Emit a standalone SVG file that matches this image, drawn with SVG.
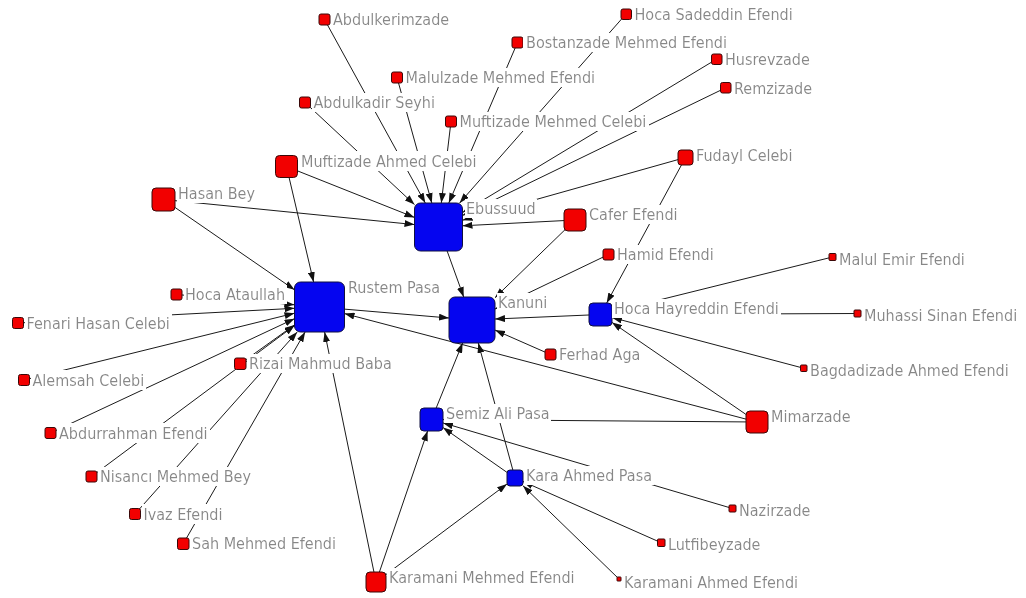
<svg xmlns="http://www.w3.org/2000/svg" width="1026" height="598" viewBox="0 0 1026 598">
  <style>
    .e { stroke: #1a1a1a; stroke-width: 1; fill: none; }
    .blue { fill: #0505f0; stroke: #101040; stroke-width: 1; }
    .red { fill: #f20000; stroke: #3a0808; stroke-width: 1; }
    .lbl { font-family: "DejaVu Sans Condensed", "DejaVu Sans", sans-serif; font-stretch: condensed; font-size: 16px; fill: #878787; filter: url(#bg); }
  </style>
  <defs>
    <!-- white box behind each label, sized to the text's own bounding box -->
    <filter id="bg" x="-0.01" y="0" width="1.02" height="1">
      <feFlood flood-color="#ffffff"/>
      <feComposite in="SourceGraphic"/>
    </filter>
    <marker id="arr" viewBox="0 0 10 7" refX="10" refY="3.5" markerWidth="10" markerHeight="7" markerUnits="userSpaceOnUse" orient="auto">
      <path d="M0,0 L10,3.5 L0,7 z" fill="#111"/>
    </marker>
  </defs>
  <rect width="1026" height="598" fill="#ffffff"/>

  <g id="connectors">
    <!-- into Ebussuud -->
    <line class="e" x1="324.5" y1="19.5" x2="425.3" y2="203" marker-end="url(#arr)"/>
    <line class="e" x1="305" y1="102.5" x2="414.5" y2="204.6" marker-end="url(#arr)"/>
    <line class="e" x1="397" y1="77.5" x2="431.8" y2="203" marker-end="url(#arr)"/>
    <line class="e" x1="451" y1="121.5" x2="441.3" y2="203" marker-end="url(#arr)"/>
    <line class="e" x1="517.5" y1="42.5" x2="448.8" y2="203" marker-end="url(#arr)"/>
    <line class="e" x1="626" y1="14" x2="459.6" y2="203" marker-end="url(#arr)"/>
    <line class="e" x1="716.75" y1="59" x2="462.5" y2="212.5" marker-end="url(#arr)"/>
    <line class="e" x1="725.75" y1="87.75" x2="462.5" y2="215.4" marker-end="url(#arr)"/>
    <line class="e" x1="685.5" y1="157.5" x2="462.5" y2="220.2" marker-end="url(#arr)"/>
    <line class="e" x1="575" y1="220" x2="462.5" y2="225.8" marker-end="url(#arr)"/>
    <line class="e" x1="286.5" y1="166.5" x2="414.5" y2="217.4" marker-end="url(#arr)"/>
    <line class="e" x1="163.5" y1="199.5" x2="414.5" y2="224.6" marker-end="url(#arr)"/>
    <!-- into Rustem Pasa -->
    <line class="e" x1="286.5" y1="166.5" x2="313.6" y2="282" marker-end="url(#arr)"/>
    <line class="e" x1="163.5" y1="199.5" x2="294.5" y2="289.8" marker-end="url(#arr)"/>
    <line class="e" x1="176.5" y1="294.5" x2="294.5" y2="304.8" marker-end="url(#arr)"/>
    <line class="e" x1="18" y1="323" x2="294.5" y2="308.3" marker-end="url(#arr)"/>
    <line class="e" x1="24" y1="380" x2="294.5" y2="313.2" marker-end="url(#arr)"/>
    <line class="e" x1="240.25" y1="363.75" x2="294.5" y2="324.9" marker-end="url(#arr)"/>
    <line class="e" x1="50.5" y1="433" x2="294.5" y2="318.7" marker-end="url(#arr)"/>
    <line class="e" x1="91.5" y1="476.5" x2="294.5" y2="325.6" marker-end="url(#arr)"/>
    <line class="e" x1="135" y1="514" x2="297.2" y2="332" marker-end="url(#arr)"/>
    <line class="e" x1="183.25" y1="543.75" x2="305.1" y2="332" marker-end="url(#arr)"/>
    <line class="e" x1="376" y1="582" x2="324.6" y2="332" marker-end="url(#arr)"/>
    <line class="e" x1="757" y1="422" x2="344.5" y2="313.6" marker-end="url(#arr)"/>
    <!-- into Kanuni -->
    <line class="e" x1="438.5" y1="227" x2="463.7" y2="297" marker-end="url(#arr)"/>
    <line class="e" x1="575" y1="220" x2="495" y2="297.7" marker-end="url(#arr)"/>
    <line class="e" x1="608.5" y1="254.5" x2="495" y2="309" marker-end="url(#arr)"/>
    <line class="e" x1="600.5" y1="314.5" x2="495" y2="319" marker-end="url(#arr)"/>
    <line class="e" x1="550.5" y1="354.5" x2="495" y2="330.1" marker-end="url(#arr)"/>
    <line class="e" x1="319.5" y1="307" x2="449" y2="318" marker-end="url(#arr)"/>
    <line class="e" x1="431.5" y1="419.5" x2="462.6" y2="343" marker-end="url(#arr)"/>
    <line class="e" x1="515" y1="478" x2="478.3" y2="343" marker-end="url(#arr)"/>
    <!-- into Hoca Hayreddin Efendi -->
    <line class="e" x1="685.5" y1="157.5" x2="606.7" y2="303" marker-end="url(#arr)"/>
    <line class="e" x1="757" y1="422" x2="612" y2="322.4" marker-end="url(#arr)"/>
    <line class="e" x1="832.5" y1="257" x2="612" y2="311.7" marker-end="url(#arr)"/>
    <line class="e" x1="857.5" y1="313.5" x2="612" y2="314.5" marker-end="url(#arr)"/>
    <line class="e" x1="803.75" y1="368.25" x2="612" y2="317.5" marker-end="url(#arr)"/>
    <!-- into Semiz Ali Pasa -->
    <line class="e" x1="757" y1="422" x2="443" y2="419.6" marker-end="url(#arr)"/>
    <line class="e" x1="732.5" y1="508.5" x2="443" y2="422.9" marker-end="url(#arr)"/>
    <line class="e" x1="515" y1="478" x2="443" y2="427.6" marker-end="url(#arr)"/>
    <line class="e" x1="376" y1="582" x2="427.6" y2="431" marker-end="url(#arr)"/>
    <!-- into Kara Ahmed Pasa -->
    <line class="e" x1="661.25" y1="542.75" x2="523" y2="481.5" marker-end="url(#arr)"/>
    <line class="e" x1="619" y1="579" x2="523" y2="485.8" marker-end="url(#arr)"/>
    <line class="e" x1="376" y1="582" x2="507" y2="484" marker-end="url(#arr)"/>
  </g>

  <!-- central actors -->
  <g id="n-ebussuud"><rect class="blue" x="414.5" y="203" width="48" height="48" rx="6"/><text class="lbl" x="466" y="214">Ebussuud</text></g>
  <g id="n-kanuni"><rect class="blue" x="449" y="297" width="46" height="46" rx="6"/><text class="lbl" x="498" y="308">Kanuni</text></g>
  <g id="n-rustem-pasa"><rect class="blue" x="294.5" y="282" width="50" height="50" rx="6"/><text class="lbl" x="348" y="293">Rustem Pasa</text></g>
  <g id="n-hoca-hayreddin"><rect class="blue" x="589" y="303" width="23" height="23" rx="4"/><text class="lbl" x="614" y="314">Hoca Hayreddin Efendi</text></g>
  <g id="n-semiz-ali"><rect class="blue" x="420" y="408" width="23" height="23" rx="4"/><text class="lbl" x="446" y="419">Semiz Ali Pasa</text></g>
  <g id="n-kara-ahmed"><rect class="blue" x="507" y="470" width="16" height="16" rx="3"/><text class="lbl" x="526" y="481">Kara Ahmed Pasa</text></g>

  <!-- other actors -->
  <g id="n-abdulkerimzade"><rect class="red" x="319" y="14" width="11" height="11" rx="2"/><text class="lbl" x="333" y="25">Abdulkerimzade</text></g>
  <g id="n-abdulkadir-seyhi"><rect class="red" x="299.5" y="97" width="11" height="11" rx="2"/><text class="lbl" x="313.5" y="108">Abdulkadir Seyhi</text></g>
  <g id="n-muftizade-ahmed"><rect class="red" x="275.5" y="155.5" width="22" height="22" rx="4"/><text class="lbl" x="301" y="166.5">Muftizade Ahmed Celebi</text></g>
  <g id="n-hasan-bey"><rect class="red" x="152" y="188" width="23" height="23" rx="4"/><text class="lbl" x="178" y="199">Hasan Bey</text></g>
  <g id="n-hoca-sadeddin"><rect class="red" x="621" y="9" width="10.5" height="10.5" rx="2"/><text class="lbl" x="634.5" y="20">Hoca Sadeddin Efendi</text></g>
  <g id="n-bostanzade"><rect class="red" x="512" y="37" width="11" height="11" rx="2"/><text class="lbl" x="526" y="48">Bostanzade Mehmed Efendi</text></g>
  <g id="n-malulzade"><rect class="red" x="391.5" y="72" width="11" height="11" rx="2"/><text class="lbl" x="405.5" y="83">Malulzade Mehmed Efendi</text></g>
  <g id="n-muftizade-mehmed"><rect class="red" x="445.5" y="116" width="11" height="11" rx="2"/><text class="lbl" x="459.5" y="127">Muftizade Mehmed Celebi</text></g>
  <g id="n-husrevzade"><rect class="red" x="711.5" y="54" width="10.5" height="10.5" rx="2"/><text class="lbl" x="725" y="65">Husrevzade</text></g>
  <g id="n-remzizade"><rect class="red" x="720.5" y="82.5" width="10.5" height="10.5" rx="2"/><text class="lbl" x="734" y="93.5">Remzizade</text></g>
  <g id="n-fudayl-celebi"><rect class="red" x="678" y="150" width="15" height="15" rx="3"/><text class="lbl" x="696" y="161">Fudayl Celebi</text></g>
  <g id="n-cafer-efendi"><rect class="red" x="564" y="209" width="22" height="22" rx="4"/><text class="lbl" x="589" y="220">Cafer Efendi</text></g>
  <g id="n-hamid-efendi"><rect class="red" x="603" y="249" width="11" height="11" rx="2"/><text class="lbl" x="617" y="260">Hamid Efendi</text></g>
  <g id="n-ferhad-aga"><rect class="red" x="545" y="349" width="11" height="11" rx="2"/><text class="lbl" x="559" y="360">Ferhad Aga</text></g>
  <g id="n-malul-emir"><rect class="red" x="829" y="253.5" width="7" height="7" rx="1"/><text class="lbl" x="839" y="264.5">Malul Emir Efendi</text></g>
  <g id="n-muhassi-sinan"><rect class="red" x="854" y="310" width="7" height="7" rx="1"/><text class="lbl" x="864" y="321">Muhassi Sinan Efendi</text></g>
  <g id="n-bagdadizade"><rect class="red" x="800.5" y="365" width="6.5" height="6.5" rx="1"/><text class="lbl" x="810" y="376">Bagdadizade Ahmed Efendi</text></g>
  <g id="n-mimarzade"><rect class="red" x="746" y="411" width="22" height="22" rx="4"/><text class="lbl" x="771" y="422">Mimarzade</text></g>
  <g id="n-nazirzade"><rect class="red" x="729" y="505" width="7" height="7" rx="1"/><text class="lbl" x="739" y="516">Nazirzade</text></g>
  <g id="n-lutfibeyzade"><rect class="red" x="657.5" y="539" width="7.5" height="7.5" rx="1"/><text class="lbl" x="668" y="550">Lutfibeyzade</text></g>
  <g id="n-karamani-ahmed"><rect class="red" x="617" y="577" width="4" height="4" rx="0.5"/><text class="lbl" x="624" y="588">Karamani Ahmed Efendi</text></g>
  <g id="n-karamani-mehmed"><rect class="red" x="366" y="572" width="20" height="20" rx="4"/><text class="lbl" x="389" y="583">Karamani Mehmed Efendi</text></g>
  <g id="n-hoca-ataullah"><rect class="red" x="171" y="289" width="11" height="11" rx="2"/><text class="lbl" x="185" y="300">Hoca Ataullah</text></g>
  <g id="n-fenari-hasan"><rect class="red" x="12.5" y="317.5" width="11" height="11" rx="2"/><text class="lbl" x="26.5" y="328.5">Fenari Hasan Celebi</text></g>
  <g id="n-alemsah-celebi"><rect class="red" x="18.5" y="374.5" width="11" height="11" rx="2"/><text class="lbl" x="32.5" y="385.5">Alemsah Celebi</text></g>
  <g id="n-rizai-mahmud"><rect class="red" x="234.5" y="358" width="11.5" height="11.5" rx="2"/><text class="lbl" x="249" y="369">Rizai Mahmud Baba</text></g>
  <g id="n-abdurrahman"><rect class="red" x="45" y="427.5" width="11" height="11" rx="2"/><text class="lbl" x="59" y="438.5">Abdurrahman Efendi</text></g>
  <g id="n-nisanci-mehmed"><rect class="red" x="86" y="471" width="11" height="11" rx="2"/><text class="lbl" x="100" y="482">Nisancı Mehmed Bey</text></g>
  <g id="n-ivaz-efendi"><rect class="red" x="129.5" y="508.5" width="11" height="11" rx="2"/><text class="lbl" x="143.5" y="519.5">Ivaz Efendi</text></g>
  <g id="n-sah-mehmed"><rect class="red" x="177.5" y="538" width="11.5" height="11.5" rx="2"/><text class="lbl" x="192" y="549">Sah Mehmed Efendi</text></g>
</svg>
